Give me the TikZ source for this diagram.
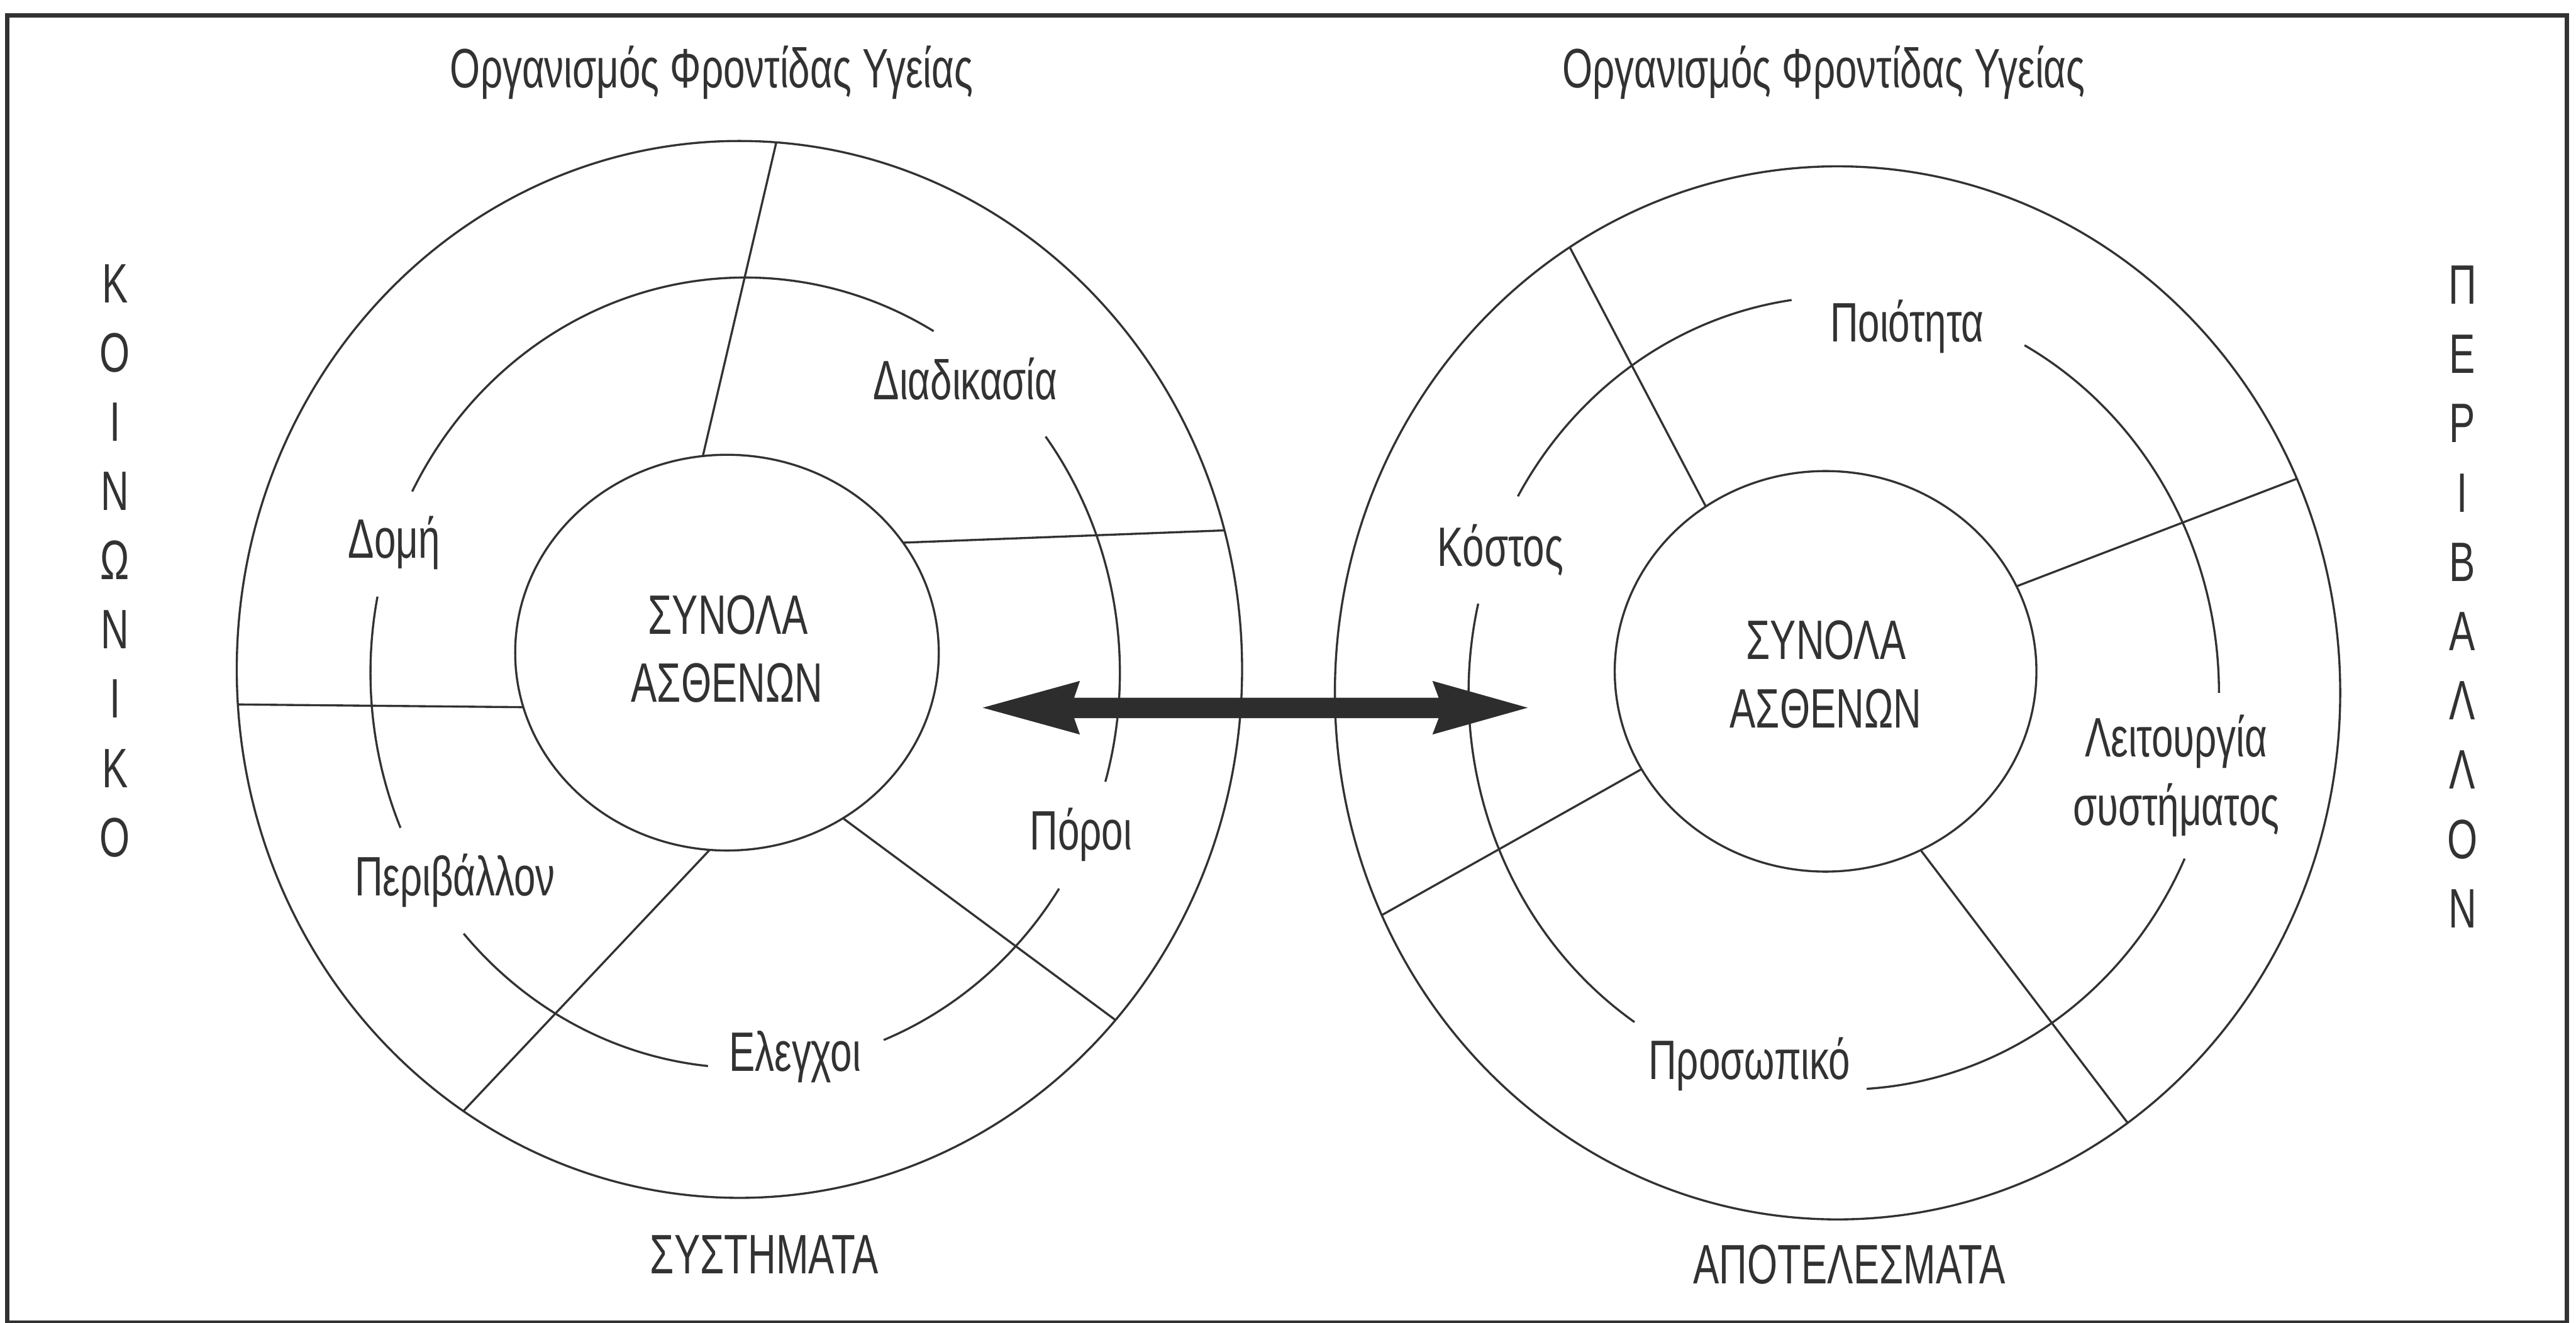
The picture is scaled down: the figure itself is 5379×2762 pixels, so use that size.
\documentclass[tikz,border=0pt]{standalone}
\usepackage{fontspec}
\setmainfont[FakeStretch=0.70]{Liberation Sans}
\usetikzlibrary{shapes.geometric,calc}
\definecolor{ink}{RGB}{50,50,50}
\definecolor{arrowfill}{RGB}{45,45,45}
\begin{document}
\begin{tikzpicture}[x=0.01cm,y=-0.01cm,
  ring/.style={draw=ink, line width=1.25pt, ellipse, inner sep=0pt, outer sep=0pt},
  ln/.style={draw=ink, line width=1.25pt},
  lbl/.style={text=ink, inner sep=0pt, anchor=base, font=\fontsize{33}{40}\selectfont},
  outerframe/.style={draw=ink, line width=2.8pt}]
\useasboundingbox (0,0) rectangle (5379,2762);
\draw[outerframe] (15,32) rectangle (5360,2762);

% ---------- left diagram: systems ----------
\node[ring, minimum width=20.98cm, minimum height=22.06cm] (Lout) at (1544,1398) {};
\node[ring, minimum width=8.84cm, minimum height=8.26cm] (Lin) at (1518,1363) {};
\coordinate (Lmid) at (1556,1405);
% dividers
\draw[ln] (Lout.86.8) -- (Lin.97.5);
\draw[ln] (Lin.32.2) -- (Lout.16.7);
\draw[ln] (Lout.184.5) -- (Lin.195.3);
\draw[ln] (Lin.265.6) -- (Lout.238.4);
\draw[ln] (Lin.305.5) -- (Lout.317);
% middle ring, broken where the labels sit
\draw[ln] ([shift={(59.8:7.82cm and 8.25cm)}]Lmid) arc[start angle=59.8, end angle=152.7, x radius=7.82cm, y radius=8.25cm];
\draw[ln] ([shift={(-16:7.82cm and 8.25cm)}]Lmid) arc[start angle=-16, end angle=36.7, x radius=7.82cm, y radius=8.25cm];
\draw[ln] ([shift={(-68.3:7.82cm and 8.25cm)}]Lmid) arc[start angle=-68.3, end angle=-33.1, x radius=7.82cm, y radius=8.25cm];
\draw[ln] ([shift={(221.3:7.82cm and 8.25cm)}]Lmid) arc[start angle=221.3, end angle=264.3, x radius=7.82cm, y radius=8.25cm];
\draw[ln] ([shift={(168.9:7.82cm and 8.25cm)}]Lmid) arc[start angle=168.9, end angle=203.1, x radius=7.82cm, y radius=8.25cm];
% labels
\node[lbl] (ltitle) at (1486,183) {Οργανισμός Φροντίδας Υγείας};
\node[lbl] (lsyn1) at (1520,1324) {ΣΥΝΟΛΑ};
\node[lbl] (lsyn2) at (1518,1466) {ΑΣΘΕΝΩΝ};
\node[lbl] (ldiad) at (2016,834) {Διαδικασία};
\node[lbl] (ldomi) at (823,1166) {Δομή};
\node[lbl] (lperi) at (950,1871) {Περιβάλλον};
\node[lbl] (lporoi) at (2257,1775) {Πόροι};
\node[lbl] (lelen) at (1660,2237) {Ελεγχοι};
\node[lbl] (lsys) at (1596,2660) {ΣΥΣΤΗΜΑΤΑ};

% ---------- right diagram: outcomes ----------
\node[ring, minimum width=20.98cm, minimum height=21.98cm] (Rout) at (3837,1447) {};
\node[ring, minimum width=8.80cm, minimum height=8.36cm] (Rin) at (3812,1402) {};
\coordinate (Rmid) at (3850,1447);
% dividers
\draw[ln] (Rout.121.2) -- (Rin.126.3);
\draw[ln] (Rin.24.7) -- (Rout.25.9);
\draw[ln] (Rin.208.0) -- (Rout.206.3);
\draw[ln] (Rin.298.3) -- (Rout.304.0);
% middle ring
\draw[ln] ([shift={(98:7.83cm and 8.28cm)}]Rmid) arc[start angle=98, end angle=150.3, x radius=7.83cm, y radius=8.28cm];
\draw[ln] ([shift={(0:7.83cm and 8.28cm)}]Rmid) arc[start angle=0, end angle=61.2, x radius=7.83cm, y radius=8.28cm];
\draw[ln] ([shift={(-86.5:7.83cm and 8.28cm)}]Rmid) arc[start angle=-86.5, end angle=-24.7, x radius=7.83cm, y radius=8.28cm];
\draw[ln] ([shift={(167:7.83cm and 8.28cm)}]Rmid) arc[start angle=167, end angle=236.1, x radius=7.83cm, y radius=8.28cm];
% labels
\node[lbl] (rtitle) at (3808,183) {Οργανισμός Φροντίδας Υγείας};
\node[lbl] (rsyn1) at (3813,1377) {ΣΥΝΟΛΑ};
\node[lbl] (rsyn2) at (3812,1520) {ΑΣΘΕΝΩΝ};
\node[lbl] (rpoio) at (3982,714) {Ποιότητα};
\node[lbl] (rkost) at (3133,1183) {Κόστος};
\node[lbl] (rleit1) at (4544,1581) {Λειτουργία};
\node[lbl] (rleit2) at (4544,1723) {συστήματος};
\node[lbl] (rpros) at (3653,2254) {Προσωπικό};
\node[lbl] (rapot) at (3862,2681) {ΑΠΟΤΕΛΕΣΜΑΤΑ};

% ---------- side captions ----------
\foreach \c [count=\i from 0] in {Κ,Ο,Ι,Ν,Ω,Ν,Ι,Κ,Ο}
  \node[lbl] (soc\i) at (240,632+144.6*\i) {\c};
\foreach \c [count=\i from 0] in {Π,Ε,Ρ,Ι,Β,Α,Λ,Λ,Ο,Ν}
  \node[lbl] (env\i) at (5142,635+144.7*\i) {\c};

% ---------- two-way arrow between the patient groups ----------
\coordinate (tipL) at (2052,1478);
\coordinate (tipR) at (3190,1478);
\fill[arrowfill] (tipL) -- (2255,1422) -- (2243,1457) -- (3004,1457) -- (2991,1422)
  -- (tipR) -- (2991,1534) -- (3004,1500) -- (2243,1500) -- (2255,1534) -- cycle;
\end{tikzpicture}
\end{document}
